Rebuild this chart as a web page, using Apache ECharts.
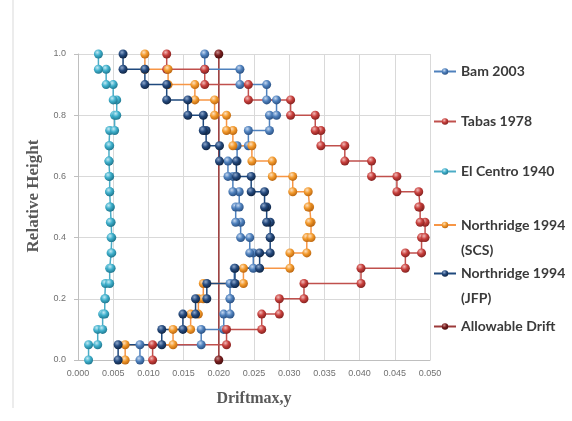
<!DOCTYPE html>
<html>
<head>
<meta charset="utf-8">
<script src="https://cdn.jsdelivr.net/npm/echarts@6/dist/echarts.min.js"></script>
<style>
  html, body { margin: 0; padding: 0; background: #ffffff; }
  #chart { width: 572px; height: 421px; }
</style>
</head>
<body>
<div id="chart"></div>
<script>
// Relative floor levels (storey boundaries)
const levels = [0, 0.05, 0.10, 0.15, 0.20, 0.25, 0.30, 0.35, 0.40, 0.45, 0.50,
                0.55, 0.60, 0.65, 0.70, 0.75, 0.80, 0.85, 0.90, 0.95, 1.00];

// Storey drift ratios, bottom storey first
const bam2003 = [0.0088, 0.0175, 0.0207, 0.0216, 0.0216, 0.0222, 0.0249, 0.0244, 0.0231, 0.0224,
                 0.0229, 0.0220, 0.0213, 0.0226, 0.0242, 0.0272, 0.0282, 0.0268, 0.0230, 0.0180];
const tabas1978 = [0.0106, 0.0211, 0.0261, 0.0286, 0.0321, 0.0402, 0.0465, 0.0488, 0.0493, 0.0486,
                   0.0484, 0.0453, 0.0417, 0.0379, 0.0345, 0.0337, 0.0302, 0.0242, 0.0180, 0.0126];
const elCentro1940 = [0.0015, 0.0028, 0.0035, 0.0038, 0.0039, 0.0045, 0.0047, 0.0048, 0.0047, 0.0046,
                      0.0045, 0.0045, 0.0044, 0.0044, 0.0045, 0.0052, 0.0055, 0.0050, 0.0040, 0.0029];
const northridgeSCS = [0.0067, 0.0135, 0.0160, 0.0171, 0.0178, 0.0235, 0.0301, 0.0325, 0.0331, 0.0329,
                       0.0327, 0.0305, 0.0276, 0.0247, 0.0220, 0.0211, 0.0194, 0.0166, 0.0128, 0.0095];
const northridgeJFP = [0.0057, 0.0119, 0.0149, 0.0167, 0.0183, 0.0223, 0.0258, 0.0273, 0.0273, 0.0268,
                       0.0265, 0.0246, 0.0225, 0.0201, 0.0182, 0.0178, 0.0156, 0.0126, 0.0095, 0.0064];
const allowableDrift = 0.020;

const xTicks = { min: 0, max: 0.05, step: 0.005 };
const yTicks = { min: 0, max: 1.0, step: 0.2 };

// Turn a storey profile into the stepped vertex list (each storey: bottom and top point)
function storeyProfile(drifts) {
  const pts = [];
  for (let i = 0; i < drifts.length; i++) {
    pts.push([drifts[i], levels[i]]);
    pts.push([drifts[i], levels[i + 1]]);
  }
  return pts;
}

// Glossy ball fill for the markers
function ball(light, base, dark) {
  return new echarts.graphic.RadialGradient(0.38, 0.32, 0.75, [
    { offset: 0, color: light },
    { offset: 0.45, color: base },
    { offset: 1, color: dark }
  ]);
}

const palette = [
  { name: 'Bam 2003', data: bam2003, line: '#4F81BD', ball: ball('#c5d8f1', '#4F81BD', '#24497a') },
  { name: 'Tabas 1978', data: tabas1978, line: '#C0504D', ball: ball('#f2b9b7', '#C8403D', '#7a1c1a') },
  { name: 'El Centro 1940', data: elCentro1940, line: '#4BACC6', ball: ball('#c3eaf4', '#3FB0CC', '#1b6f86') },
  { name: 'Northridge 1994 (SCS)', data: northridgeSCS, line: '#F79646', ball: ball('#fde0bf', '#F39A2C', '#b35f0c') },
  { name: 'Northridge 1994 (JFP)', data: northridgeJFP, line: '#1F497D', ball: ball('#8ea8cc', '#24497d', '#0c1f3a') }
];

const series = palette.map(p => ({
  name: p.name,
  type: 'line',
  data: storeyProfile(p.data),
  symbol: 'circle',
  symbolSize: 9,
  lineStyle: { color: p.line, width: 1.5 },
  itemStyle: { color: p.ball, borderWidth: 0 },
  emphasis: { disabled: true },
  z: 3
}));

series.push({
  name: 'Allowable Drift',
  type: 'line',
  data: [[allowableDrift, levels[0]], [allowableDrift, levels[levels.length - 1]]],
  symbol: 'circle',
  symbolSize: 9,
  lineStyle: { color: '#9c3a3a', width: 1.5 },
  itemStyle: { color: ball('#c98b8b', '#7a1f1f', '#3e0c0c'), borderWidth: 0 },
  emphasis: { disabled: true },
  z: 2
});

const legendFont = { fontFamily: 'Lato', fontSize: 14, fontWeight: 'bold', color: '#3a3a3a' };

// One legend block per entry so each sits at its own row.
// Two-line entries get a blank leading line so the icon lines up with the first text line.
function legendAt(name, centerY, twoLines) {
  const lh = twoLines ? 25 : 16;
  return {
    data: [name],
    left: 433,
    top: twoLines ? centerY - lh * 1.5 : centerY - lh / 2,
    padding: 0,
    itemWidth: 22,
    itemHeight: 8,
    itemGap: 0,
    selectedMode: false,
    formatter: n => twoLines ? '\n' + n.replace(' (', '\n(') : n,
    textStyle: Object.assign({ lineHeight: lh }, legendFont)
  };
}

const chart = echarts.init(document.getElementById('chart'), null, { renderer: 'canvas' });
chart.setOption({
  animation: false,
  backgroundColor: '#ffffff',
  grid: { left: 78, right: 142, top: 54, bottom: 61, containLabel: false },
  xAxis: {
    type: 'value',
    min: xTicks.min, max: xTicks.max, interval: xTicks.step,
    name: 'Driftmax,y',
    nameLocation: 'middle',
    nameGap: 31,
    nameTextStyle: { fontFamily: 'Liberation Serif', fontSize: 16, fontWeight: 'bold', color: '#595959' },
    axisLine: { show: true, lineStyle: { color: '#bfbfbf' } },
    axisTick: { show: false },
    axisLabel: {
      margin: 9, fontFamily: 'Liberation Sans', fontSize: 9, color: '#707070',
      formatter: v => v.toFixed(3)
    },
    splitLine: { show: true, lineStyle: { color: '#d9d9d9', width: 1 } }
  },
  yAxis: {
    type: 'value',
    min: yTicks.min, max: yTicks.max, interval: yTicks.step,
    name: 'Relative Height',
    nameLocation: 'middle',
    nameGap: 30,
    nameTextStyle: {
      fontFamily: 'Liberation Serif', fontSize: 17, fontWeight: 'bold', color: '#595959',
      padding: [0, 0, 0, 22]
    },
    axisLine: { show: true, lineStyle: { color: '#bfbfbf' } },
    axisTick: { show: true, length: 4, inside: false, lineStyle: { color: '#bfbfbf' } },
    axisLabel: {
      margin: 12, fontFamily: 'Liberation Sans', fontSize: 9, color: '#707070',
      formatter: v => v.toFixed(1)
    },
    splitLine: { show: true, lineStyle: { color: '#d9d9d9', width: 1 } }
  },
  legend: [
    legendAt('Bam 2003', 71.5, false),
    legendAt('Tabas 1978', 121.5, false),
    legendAt('El Centro 1940', 171.5, false),
    legendAt('Northridge 1994 (SCS)', 225, true),
    legendAt('Northridge 1994 (JFP)', 273.5, true),
    legendAt('Allowable Drift', 326.5, false)
  ],
  graphic: [
    { type: 'line', shape: { x1: 13, y1: 0, x2: 13, y2: 408 }, style: { stroke: '#d9d9d9', lineWidth: 1 }, silent: true }
  ],
  series: series
});
</script>
</body>
</html>
